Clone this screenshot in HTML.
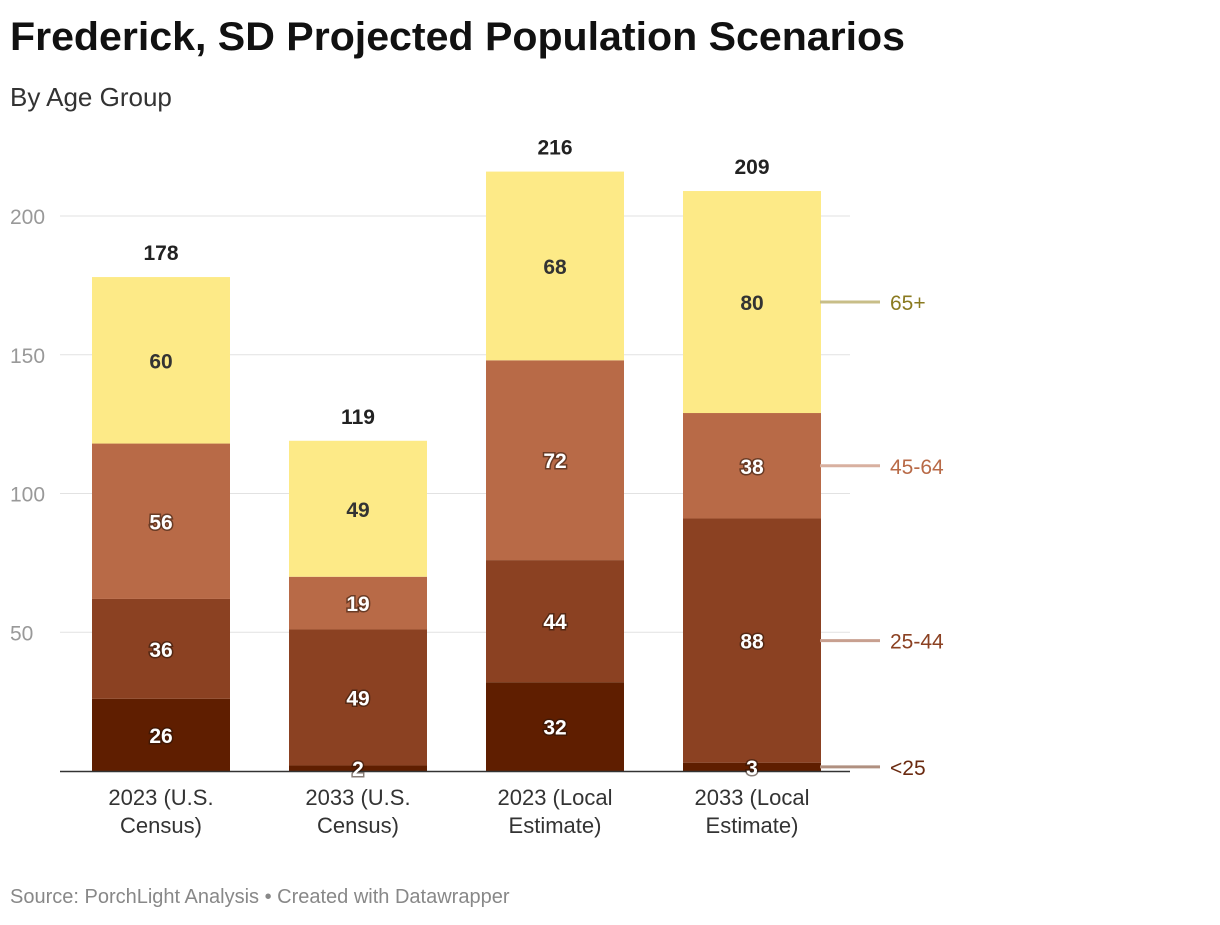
<!DOCTYPE html>
<html><head><meta charset="utf-8"><style>
body{margin:0;background:#fff;width:1220px;height:920px;overflow:hidden;font-family:"Liberation Sans",Arial,sans-serif}
</style></head><body>
<svg width="1220" height="920" xmlns="http://www.w3.org/2000/svg">
<text x="10" y="50" font-size="40" font-weight="bold" fill="#111" textLength="895" lengthAdjust="spacingAndGlyphs">Frederick, SD Projected Population Scenarios</text>
<text x="10" y="106" font-size="26" fill="#333">By Age Group</text>
<g id="grid"></g><g id="bars"></g><g id="legend"></g>
<text x="10" y="903" font-size="20" fill="#888">Source: PorchLight Analysis • Created with Datawrapper</text>
</svg>
<script>
const categories=[["2023 (U.S.","Census)"],["2033 (U.S.","Census)"],["2023 (Local","Estimate)"],["2033 (Local","Estimate)"]];
const seriesNames=["<25","25-44","45-64","65+"];
const under25=[26,2,32,3];
const age25to44=[36,49,44,88];
const age45to64=[56,19,72,38];
const age65plus=[60,49,68,80];
const totals=[178,119,216,209];
const yTicks=[50,100,150,200];
const series=[under25,age25to44,age45to64,age65plus];
const colors=["#5f1e00","#8b4122","#b86a47","#fdea87"];
const legendLine=["#b09080","#c8a090","#d8b0a0","#c8be88"];
const legendText=["#6a2a10","#8b4122","#b86a47","#8a7a20"];
const NS="http://www.w3.org/2000/svg";
const y=v=>771-v*2.775;
const x=i=>92+i*197;
const bw=138;
function mk(tag,attrs,parent,txt){const e=document.createElementNS(NS,tag);for(const k in attrs)e.setAttribute(k,attrs[k]);if(txt!==undefined)e.textContent=txt;parent.appendChild(e);return e;}
const grid=document.getElementById('grid'),bars=document.getElementById('bars'),leg=document.getElementById('legend');
yTicks.forEach(t=>{
 const l=mk('line',{x1:60,x2:850,y1:y(t),y2:y(t),stroke:'#e2e2e2','stroke-width':1},grid);
 
 
 const tx=mk('text',{x:10,y:y(t)+8,'font-size':21,fill:'#999'},grid,t);
 
 
});
const labels=[];
categories.forEach((c,i)=>{
 let base=0;
 series.forEach((s,j)=>{
  const v=s[i];
  const r=mk('rect',{x:x(i),y:y(base+v),width:bw,height:v*2.775,fill:colors[j]},bars);
  
  
  labels.push([x(i)+bw/2,y(base+v/2)+8,v,j===3]);
  base+=v;
 });
 const tt=mk('text',{x:x(i)+bw/2,y:y(totals[i])-17,'text-anchor':'middle','font-size':21,'font-weight':'bold',fill:'#222'},bars,totals[i]);
 
 
 c.forEach((line,k)=>{
  const lt=mk('text',{x:x(i)+bw/2,y:805+k*28,'text-anchor':'middle','font-size':22,fill:'#333'},bars,line);
  
  
 });
});
const ax=mk('line',{x1:60,x2:850,y1:771.5,y2:771.5,stroke:'#333','stroke-width':1.5},bars);


labels.forEach(([lx,ly,v,dark])=>{
  const t=mk('text',{x:lx,y:ly,'text-anchor':'middle','font-size':21,'font-weight':'bold',fill:dark?'#333':'#fff',style:dark?'':'paint-order:stroke;stroke:rgba(40,20,10,0.55);stroke-width:3px'},bars,v);
  
  
});
let base=0;const last=categories.length-1;
series.forEach((s,j)=>{
 const v=s[last];const ly=y(base+v/2);base+=v;
 const l=mk('line',{x1:820,x2:880,y1:ly,y2:ly,stroke:legendLine[j],'stroke-width':3},leg);
 
 
 const t=mk('text',{x:890,y:ly+8,'font-size':21,fill:legendText[j]},leg,seriesNames[j]);
 
 
});
</script>
</body></html>
